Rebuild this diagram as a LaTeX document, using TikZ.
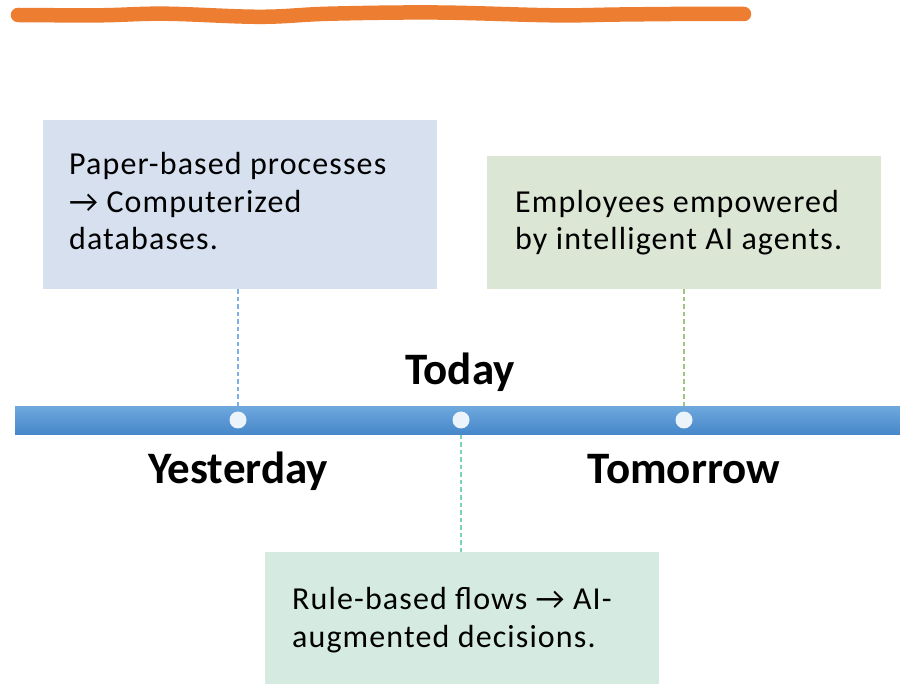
\documentclass[tikz,border=0pt]{standalone}
\usepackage{fontspec}
\setmainfont{Carlito}
\usetikzlibrary{backgrounds}
\definecolor{orangeline}{HTML}{ED7D31}
\definecolor{boxblue}{HTML}{D6E0EF}
\definecolor{boxgreen}{HTML}{DCE6D5}
\definecolor{boxteal}{HTML}{D5EBE2}
\definecolor{bartop}{HTML}{6EA8DD}
\definecolor{barbot}{HTML}{4787C9}
\definecolor{dotfill}{HTML}{EBF3FB}
\definecolor{dashblue}{HTML}{7EB1E3}
\definecolor{dashgreen}{HTML}{9CC781}
\definecolor{dashteal}{HTML}{7AD4AE}
\tikzset{
  card/.style={fill=#1, draw=none, anchor=north west, inner sep=0pt},
  cardtext/.style={anchor=base west, align=left, inner sep=0pt,
    font=\fontsize{32}{37.5}\selectfont\addfontfeature{LetterSpace=3.5}},
  yearlabel/.style={anchor=base, inner sep=0pt, font=\fontsize{45}{52}\selectfont\bfseries},
  tdot/.style={circle, fill=dotfill, minimum size=17pt, inner sep=0pt},
  link/.style={dash pattern=on 4.5pt off 3pt, line width=1.6pt}
}
\begin{document}
\begin{tikzpicture}[x=1pt,y=-1pt]
\useasboundingbox (0,0) rectangle (900,684);
% orange brush stroke
\draw[orangeline, line width=14.5pt, line cap=round]
  plot[smooth, tension=0.6] coordinates {(18,15) (100,15.3) (165,13.7) (260,16.8) (330,13.7) (437,12.5) (553,15.3) (620,14.5) (700,13.8) (744,14)};
% cards
\node[card=boxblue, minimum width=394pt, minimum height=169pt] (b1) at (43,120) {};
\node[card=boxgreen, minimum width=394pt, minimum height=133pt] (b2) at (487,156) {};
\node[card=boxteal, minimum width=394pt, minimum height=132pt] (b3) at (265,552) {};
% base anchor of a multi-line node = baseline of its last line
\node[cardtext] (t1) at (69,250) {Paper-based processes\\→ Computerized\\databases.};
\node[cardtext] (t2) at (515,250) {Employees empowered\\by intelligent AI agents.};
\node[cardtext] (t3) at (292,647) {Rule-based flows → AI-\\augmented decisions.};
% timeline bar
\node[anchor=north west, minimum width=885pt, minimum height=28pt, inner sep=0pt,
      top color=bartop, bottom color=barbot, draw=none] (bar) at (15,406) {};
\node[tdot] (d1) at (238,420) {};
\node[tdot] (d2) at (461,420) {};
\node[tdot] (d3) at (684,420) {};
% connectors
\begin{scope}[on background layer]
\draw[link, dashblue] (d1 |- b1.south) -- (d1.center);
\draw[link, dashgreen] (d3 |- b2.south) -- (d3.center);
\draw[link, dashteal] (d2.center) -- (d2 |- b3.north);
\end{scope}
% labels
\node[yearlabel] (today) at (460,385) {Today};
\node[yearlabel] (yesterday) at (238,483) {Yesterday};
\node[yearlabel] (tomorrow) at (684,483) {Tomorrow};
\end{tikzpicture}
\end{document}
